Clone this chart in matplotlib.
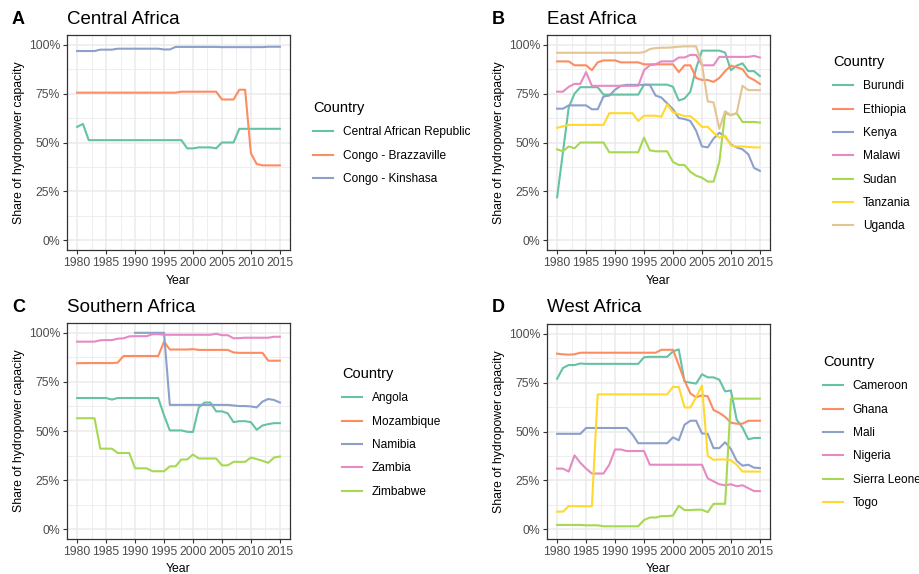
import numpy as np
import matplotlib
matplotlib.use("Agg")
import matplotlib.pyplot as plt
from matplotlib.ticker import MultipleLocator, FuncFormatter

plt.rcParams['font.family'] = ['Liberation Sans', 'DejaVu Sans']

years = list(range(1980, 2016))
nan = np.nan

# ---- Central Africa
central_names = ["Central African Republic", "Congo - Brazzaville", "Congo - Kinshasa"]
car = [58, 59.5] + [51.2] * 17 + [47, 47, 47.5, 47.5, 47.5, 47, 50, 50, 50] + [57] * 8
congo_brazza = [75.5] * 18 + [76] * 7 + [72, 72, 72, 77, 77, 44.5, 39, 38.3, 38.3, 38.3, 38.3]
congo_kin = [96.8] * 4 + [97.5] * 3 + [98] * 8 + [97.6, 97.6] + [98.9] * 8 + [98.8] * 8 + [99] * 3

# ---- East Africa
east_names = ["Burundi", "Ethiopia", "Kenya", "Malawi", "Sudan", "Tanzania", "Uganda"]
burundi = [22, 45, 68, 75, 78.3, 78.3, 78.3, 78.3, 74.5, 74.5, 74.5, 74.5, 74.5, 74.5, 74.5,
           79.6, 79.6, 79.6, 79.6, 79.6, 78.5, 71.5, 72.5, 76, 88, 97, 97, 97, 97, 96,
           87, 89.3, 90.5, 86.5, 86.5, 84]
ethiopia = [91.5, 91.5, 91.5, 89.5, 89.5, 89.5, 87, 91, 92, 92, 92, 91, 91, 91, 91,
            90, 90, 90, 90, 90, 90, 86, 89.5, 89.5, 83, 82, 82, 81, 83, 86.5,
            89.3, 88.5, 87.5, 83.5, 82, 80]
kenya = [67.3, 67.3, 69, 69, 69, 69, 67, 67, 73.5, 74, 77, 79, 79.5, 79.5, 79.5,
         79.5, 79.5, 74, 73, 70, 67, 62.5, 62, 61, 56, 48, 47.5, 52, 55, 53,
         49, 47.5, 46.5, 44, 37, 35.5]
malawi = [76, 76, 78.5, 80, 80, 86, 79, 79, 79, 79, 79, 79, 79, 79, 79,
          87, 89.5, 90, 91.5, 91.5, 91.5, 93.5, 93.5, 94.8, 94.8, 89.5, 89.5, 89.5, 93.8, 93.8,
          93.8, 93.8, 93.8, 93.8, 94.3, 93.5]
sudan = [46.5, 45.5, 48, 47, 50, 50, 50, 50, 50, 45, 45, 45, 45, 45, 45,
         52.5, 46, 45.5, 45.5, 45.5, 40, 38.5, 38.5, 35, 33, 32, 30, 30, 40, 65,
         64, 65, 60.5, 60.5, 60.5, 60.2]
tanzania = [57.5, 58.3, 59, 59, 59, 59, 59, 59, 59, 65, 65, 65, 65, 65, 61,
            63.7, 63.7, 63.7, 63.2, 69.5, 65.5, 64.5, 63.5, 63.5, 61, 58, 58, 55, 52.5, 53.5,
            48.5, 48, 48, 47.7, 47.5, 47.5]
uganda = [95.9] * 15 + [96.2, 97.8, 98.3, 98.5, 98.5, 98.7, 99, 99.2, 99.2, 99.2,
                        90, 71, 70.5, 57, 66, 64, 65, 79, 76.8, 76.8, 76.8]

# ---- Southern Africa
south_names = ["Angola", "Mozambique", "Namibia", "Zambia", "Zimbabwe"]
angola = [66.8] * 6 + [66] + [66.8] * 8 + [58, 50.3, 50.3, 50.3, 49.6, 49.5, 62, 64.5, 64.5,
                                          60, 60, 59, 54.5, 55, 55, 54.5, 50.6, 52.8, 53.5, 54, 54]
mozambique = [84.5] + [84.6] * 6 + [84.8] + [88.2] * 7 + [95.5, 91.5, 91.5, 91.5, 91.5, 91.7] + \
             [91.3] * 6 + [90] + [89.8] * 5 + [85.8] * 3
namibia = [nan] * 10 + [100] * 6 + [63.3] * 11 + [63, 62.7, 62.7, 62.5, 62, 65, 66.3, 65.8, 64.5]
zambia = [95.5] * 4 + [96.2, 96.3, 96.3, 97, 97.2, 98.2, 98.3, 98.3, 98.3, 99.3, 99.3] + \
         [99] * 9 + [99.5, 98.8, 98.8, 97.2, 97.3] + [97.5] * 5 + [98, 98]
zimbabwe = [56.5] * 4 + [41, 41, 41, 38.8, 38.8, 38.8, 31, 31, 31, 29.5, 29.5, 29.5,
                         32, 32, 35.5, 35.5, 38, 36, 36, 36, 36, 32.5, 32.5, 34.3, 34.3, 34.3,
                         36.5, 35.7, 34.8, 33.8, 36.5, 37]

# ---- West Africa
west_names = ["Cameroon", "Ghana", "Mali", "Nigeria", "Sierra Leone", "Togo"]
cameroon = [77, 82.5, 84, 84, 84.8] + [84.6] * 10 + [88, 88.2, 88.2, 88.2, 88.2, 91, 92,
                                                    75.5, 75, 74.5, 79.3, 77.7, 77.7, 76.5, 70.5,
                                                    71, 56, 52, 46, 46.7, 46.7]
ghana = [89.8, 89.5, 89.3, 89.5] + [90.3] * 14 + [91.8, 91.8, 91.8, 84, 76, 69.5, 67.5,
                                                  68.5, 68, 61, 59.5, 57.5, 54.5, 54, 54, 55.5,
                                                  55.5, 55.5]
mali = [48.8] * 5 + [51.8] * 8 + [48.5] + [44] * 6 + [47, 45.5, 53.5, 55.5, 55.5, 49, 48.8,
                                                    41.5, 41.5, 44.5, 41, 35, 32.5, 33, 31.5, 31.3]
nigeria = [31, 31, 29.5, 37.8, 34, 31, 28.5, 28.5, 28.5, 33, 40.8, 40.8, 40, 40, 40, 40] + \
          [33] * 10 + [26, 24.5, 23, 22.5, 23, 22, 22.5, 21, 19.5, 19.5]
sierra_leone = [2.2] * 5 + [2] * 3 + [1.5] * 7 + [4.7, 6, 6, 6.7, 6.7, 7, 12, 9.8, 9.8, 10,
                                                  10, 8.7, 13, 13, 13] + [66.8] * 6
togo = [9, 9] + [11.8] * 5 + [69] * 13 + [72.8, 72.8, 62.3, 62.3, 67.5, 73.5, 37.5, 35.5,
                                          35.7, 35.7, 35.3, 33, 29.5, 29.5, 29.5, 29.5]

set2 = ["#66C2A5", "#FC8D62", "#8DA0CB", "#E78AC3", "#A6D854", "#FFD92F", "#E5C494"]

W, H = 920, 574
fig = plt.figure(figsize=(W / 100, H / 100), dpi=100)


def px_axes(x0, y0, x1, y1):
    # pixel box (top-left origin) -> figure axes
    return fig.add_axes([x0 / W, (H - y1) / H, (x1 - x0) / W, (y1 - y0) / H])


def panel(box, letter, title, names, series, leg_xy):
    ax = px_axes(*box)
    for i, (nm, vals) in enumerate(zip(names, series)):
        ax.plot(years, vals, color=set2[i], lw=1.5, label=nm, solid_joinstyle="round")
    ax.set_xlim(1978.25, 2016.75)
    ax.set_ylim(-5, 105)
    ax.xaxis.set_major_locator(MultipleLocator(5))
    ax.xaxis.set_minor_locator(MultipleLocator(2.5))
    ax.yaxis.set_major_locator(MultipleLocator(25))
    ax.yaxis.set_minor_locator(MultipleLocator(12.5))
    ax.yaxis.set_major_formatter(FuncFormatter(lambda v, p: "%d%%" % v))
    ax.grid(which="major", color="#EBEBEB", lw=1.1)
    ax.grid(which="minor", color="#EBEBEB", lw=0.6)
    ax.set_axisbelow(True)
    for s in ax.spines.values():
        s.set_color("#333333")
        s.set_linewidth(0.9)
    ax.tick_params(which="major", length=3, width=0.8, color="#333333",
                   labelsize=8.8, labelcolor="#4D4D4D", pad=2)
    ax.tick_params(which="minor", length=0)
    ax.set_xlabel("Year", fontsize=8.8, labelpad=4)
    ax.set_ylabel("Share of hydropower capacity", fontsize=8.8)
    ax.yaxis.set_label_coords(-0.19, 0.5)
    ty = 1 - 19 / H if box[1] < 100 else 1 - 307 / H
    fig.text((box[0] - 55) / W, ty, letter, fontsize=13, fontweight="bold",
             va="center", ha="left")
    fig.text(box[0] / W, ty, title, fontsize=13.5, va="center", ha="left")
    ax.legend(loc="upper left", bbox_to_anchor=(leg_xy[0] / W, 1 - leg_xy[1] / H),
              bbox_transform=fig.transFigure, frameon=False, title="Country",
              alignment="left", fontsize=8.6, title_fontsize=10.5,
              handlelength=1.7, handletextpad=0.8, labelspacing=0.95,
              borderpad=0, borderaxespad=0)
    return ax


panel((67, 35, 290, 250), "A", "Central Africa", central_names,
      [car, congo_brazza, congo_kin], (313, 101))
panel((547, 35, 770, 250), "B", "East Africa", east_names,
      [burundi, ethiopia, kenya, malawi, sudan, tanzania, uganda], (833, 55))
panel((67, 323, 290, 539), "C", "Southern Africa", south_names,
      [angola, mozambique, namibia, zambia, zimbabwe], (342, 367))
panel((547, 324, 770, 539), "D", "West Africa", west_names,
      [cameroon, ghana, mali, nigeria, sierra_leone, togo], (823, 355))

fig.savefig("out.png", dpi=100, facecolor="white")
